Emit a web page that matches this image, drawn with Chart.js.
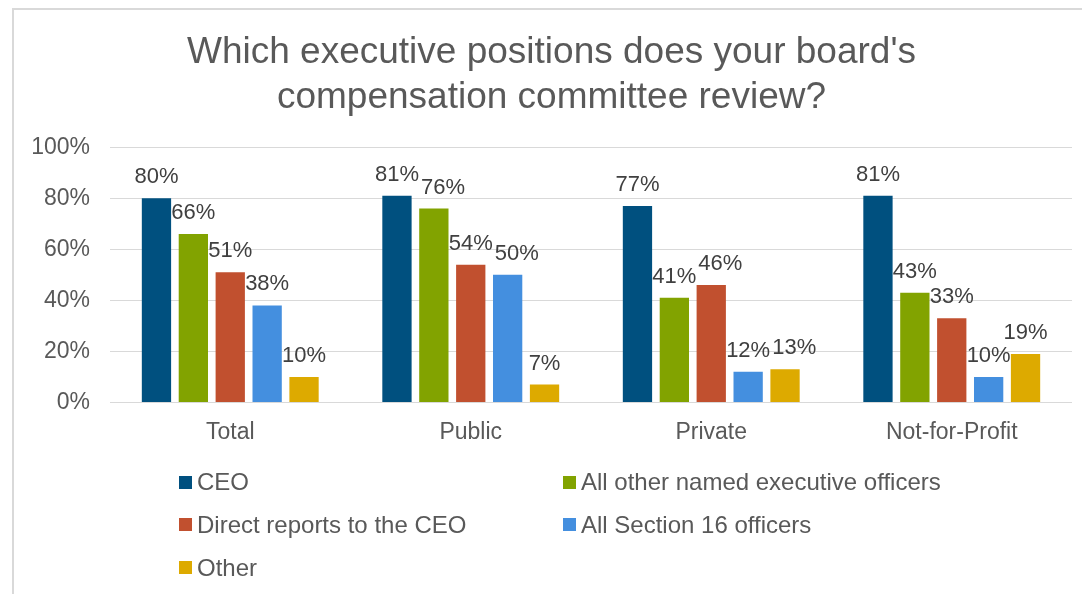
<!DOCTYPE html>
<html>
<head>
<meta charset="utf-8">
<title>Executive positions reviewed by the compensation committee</title>
<script src="https://cdn.jsdelivr.net/npm/chart.js@4.4.1/dist/chart.umd.min.js"></script>
<style>
  html, body { margin: 0; padding: 0; background: #ffffff; overflow: hidden; }
  body { width: 1082px; height: 594px; position: relative; font-family: "Liberation Sans", Arial, sans-serif; }
  #frame { position: absolute; left: 12px; top: 8px; width: 1100px; height: 620px;
           border: 2px solid #d9d9d9; box-sizing: border-box; pointer-events: none; }
  #chart { position: absolute; left: 0; top: 0; }
  #legend { position: absolute; left: 0; top: 0; width: 1082px; height: 594px; pointer-events: none; }
  .item { position: absolute; display: flex; align-items: center; height: 30px; margin-top: -15px;
          font-size: 24px; color: #595959; white-space: nowrap; }
  .swatch { width: 13px; height: 13px; margin-right: 5px; flex: none; }
</style>
</head>
<body>
<div id="frame"></div>
<canvas id="chart" width="1082" height="594"></canvas>
<div id="legend"></div>
<script>
// Survey groups and the share of boards whose committee reviews each position (%)
const categories = ['Total', 'Public', 'Private', 'Not-for-Profit'];
const seriesNames = ['CEO', 'All other named executive officers', 'Direct reports to the CEO',
                     'All Section 16 officers', 'Other'];
const ceo            = [80, 81, 77, 81];
const namedOfficers  = [66, 76, 41, 43];
const directReports  = [51, 54, 46, 33];
const section16      = [38, 50, 12, 10];
const other          = [10, 7, 13, 19];
const yTicks         = [0, 20, 40, 60, 80, 100];

const seriesValues = [ceo, namedOfficers, directReports, section16, other];
const seriesColors = ['#00507F', '#82A300', '#C1502F', '#448FDF', '#DDAA00'];

const FONT = '"Liberation Sans", Arial, sans-serif';
const TEXT = '#595959';

// Percent labels above each bar; a label that would collide with the
// previous label in its group is nudged to the right.
const valueLabels = {
  id: 'valueLabels',
  afterDatasetsDraw(chart) {
    const ctx = chart.ctx;
    const capH = 16, gap = 2;
    ctx.save();
    ctx.font = '22px ' + FONT;
    ctx.fillStyle = '#404040';
    ctx.textAlign = 'center';
    ctx.textBaseline = 'alphabetic';
    const nGroups = chart.data.labels.length;
    for (let j = 0; j < nGroups; j++) {
      let prev = null;
      chart.data.datasets.forEach((ds, i) => {
        const bar = chart.getDatasetMeta(i).data[j];
        const text = ds.data[j] + '%';
        const w = ctx.measureText(text).width;
        const base = bar.y - 15;
        let x = bar.x;
        if (prev) {
          const vOverlap = base > prev.base - capH && base - capH < prev.base;
          if (vOverlap && x - w / 2 < prev.right + gap) x = prev.right + gap + w / 2;
        }
        ctx.fillText(text, x, base);
        prev = { right: x + w / 2, base };
      });
    }
    ctx.restore();
  }
};

const chart = new Chart(document.getElementById('chart'), {
  type: 'bar',
  data: {
    labels: categories,
    datasets: seriesNames.map((name, i) => ({
      label: name,
      data: seriesValues[i],
      backgroundColor: seriesColors[i],
      borderWidth: 0,
      categoryPercentage: 0.767,
      barPercentage: 0.794
    }))
  },
  options: {
    responsive: false,
    animation: false,
    devicePixelRatio: 1,
    layout: { padding: { left: 31, right: 10, top: 0, bottom: 140 } },
    plugins: {
      legend: { display: false },
      tooltip: { enabled: false },
      title: {
        display: true,
        text: ["Which executive positions does your board's", 'compensation committee review?'],
        color: TEXT,
        font: { family: FONT, size: 37, weight: 'normal', lineHeight: 1.22 },
        padding: { top: 30, bottom: 27 }
      }
    },
    scales: {
      x: {
        grid: { display: false },
        border: { display: false },
        ticks: { color: TEXT, font: { family: FONT, size: 23 }, padding: 8 }
      },
      y: {
        min: 0,
        max: 100,
        afterBuildTicks: s => { s.ticks = yTicks.map(v => ({ value: v })); },
        afterFit: s => { s.width = 79; },
        grid: { color: '#d9d9d9', lineWidth: 1, drawTicks: false },
        border: { display: false },
        ticks: { color: TEXT, font: { family: FONT, size: 23 }, padding: 20,
                 callback: v => v + '%' }
      }
    }
  },
  plugins: [valueLabels]
});

// Two-column legend below the plot
const legend = document.getElementById('legend');
const colLeft = [179, 563];
seriesNames.forEach((name, i) => {
  const item = document.createElement('div');
  item.className = 'item';
  item.style.left = colLeft[i % 2] + 'px';
  item.style.top = (482 + Math.floor(i / 2) * 42.8) + 'px';
  const sw = document.createElement('span');
  sw.className = 'swatch';
  sw.style.background = seriesColors[i];
  const label = document.createElement('span');
  label.textContent = name;
  item.appendChild(sw);
  item.appendChild(label);
  legend.appendChild(item);
});
</script>
</body>
</html>
